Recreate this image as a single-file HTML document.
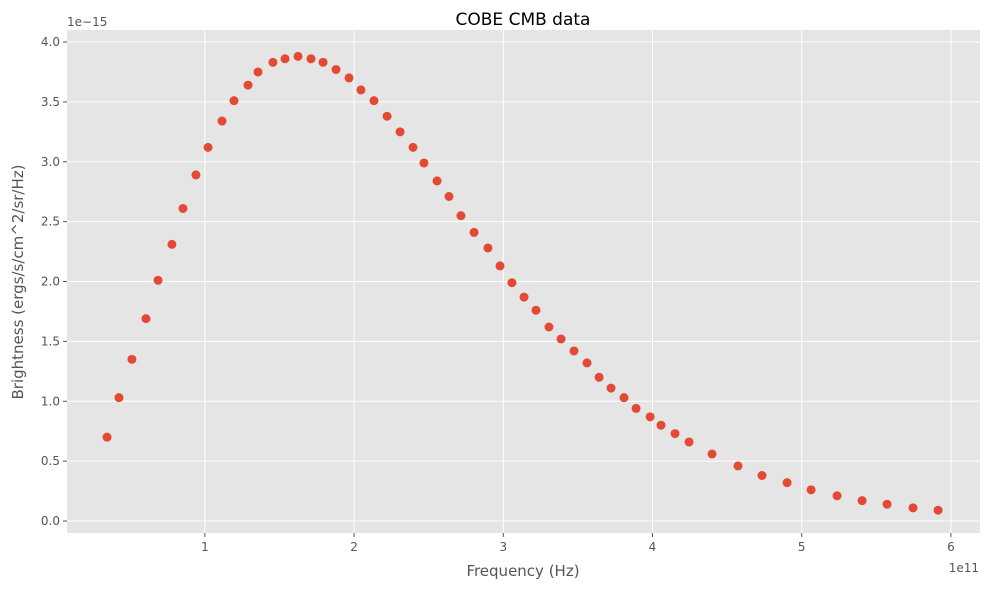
<!DOCTYPE html>
<html><head><meta charset="utf-8"><style>
body{margin:0;background:#fff;font-family:"Liberation Sans","DejaVu Sans",sans-serif}
svg text{font-family:"DejaVu Sans","Liberation Sans",sans-serif}
</style></head><body>
<svg id="chart" width="989" height="590" viewBox="0 0 989 590" xmlns="http://www.w3.org/2000/svg">
<rect x="0" y="0" width="989" height="590" fill="#fff"/>
<rect x="67" y="30" width="913" height="503" fill="#e5e5e5"/>
<g id="grid"></g><g id="ticks"></g><g id="points"></g>
<text x="523" y="25" text-anchor="middle" font-size="17" fill="#000">COBE CMB data</text>
<text x="523" y="576" text-anchor="middle" font-size="15" fill="#555">Frequency (Hz)</text>
<text transform="translate(23,282) rotate(-90)" text-anchor="middle" font-size="15" fill="#555">Brightness (ergs/s/cm^2/sr/Hz)</text>
<text x="979" y="572" text-anchor="end" font-size="12" fill="#555">1e11</text>
<text x="67" y="26" font-size="12" fill="#555">1e−15</text>
</svg>
<script>
const freq=[0.344,0.424,0.511,0.605,0.686,0.779,0.853,0.940,1.021,1.115,1.195,1.289,1.356,1.456,1.537,1.624,1.711,1.792,1.879,1.966,2.046,2.133,2.221,2.308,2.395,2.468,2.556,2.636,2.716,2.804,2.897,2.978,3.058,3.139,3.219,3.306,3.387,3.474,3.561,3.642,3.722,3.809,3.890,3.984,4.057,4.151,4.245,4.399,4.573,4.734,4.902,5.063,5.237,5.405,5.572,5.746,5.914];
const bright=[0.70,1.03,1.35,1.69,2.01,2.31,2.61,2.89,3.12,3.34,3.51,3.64,3.75,3.83,3.86,3.88,3.86,3.83,3.77,3.70,3.60,3.51,3.38,3.25,3.12,2.99,2.84,2.71,2.55,2.41,2.28,2.13,1.99,1.87,1.76,1.62,1.52,1.42,1.32,1.20,1.11,1.03,0.94,0.87,0.80,0.73,0.66,0.56,0.46,0.38,0.32,0.26,0.21,0.17,0.14,0.11,0.09];
const xTicks=[1,2,3,4,5,6];
const yTicks=[0,0.5,1,1.5,2,2.5,3,3.5,4];
const yTickLabels=["0.0","0.5","1.0","1.5","2.0","2.5","3.0","3.5","4.0"];
const NS="http://www.w3.org/2000/svg";
function xs(v){return 55.7+v*149.2;}
function ys(v){return 521-v*119.75;}
function mk(tag,attrs,parent,text){const e=document.createElementNS(NS,tag);for(const k in attrs)e.setAttribute(k,attrs[k]);if(text!==undefined)e.textContent=text;parent.appendChild(e);return e;}
const grid=document.getElementById('grid'),ticks=document.getElementById('ticks'),pts=document.getElementById('points');
xTicks.forEach(t=>{const x=xs(t);
 const l=mk('line',{x1:x,x2:x,y1:30,y2:533,stroke:'#fff','stroke-width':1},grid);
 
 
 mk('line',{x1:x,x2:x,y1:533,y2:537,stroke:'#555'},ticks);
 const tx=mk('text',{x:x,y:551,'text-anchor':'middle','font-size':12,fill:'#555'},ticks,String(t));
 
 
});
yTicks.forEach((t,i)=>{const y=ys(t);
 const l=mk('line',{x1:67,x2:980,y1:y,y2:y,stroke:'#fff','stroke-width':1},grid);
 
 
 mk('line',{x1:63,x2:67,y1:y,y2:y,stroke:'#555'},ticks);
 const tx=mk('text',{x:60,y:y+4,'text-anchor':'end','font-size':12,fill:'#555'},ticks,yTickLabels[i]);
 
 
});
freq.forEach((f,i)=>{
 const c=mk('circle',{cx:xs(f),cy:ys(bright[i]),r:4.5,fill:'#e24a33'},pts);
 
 
});
</script>
</body></html>
